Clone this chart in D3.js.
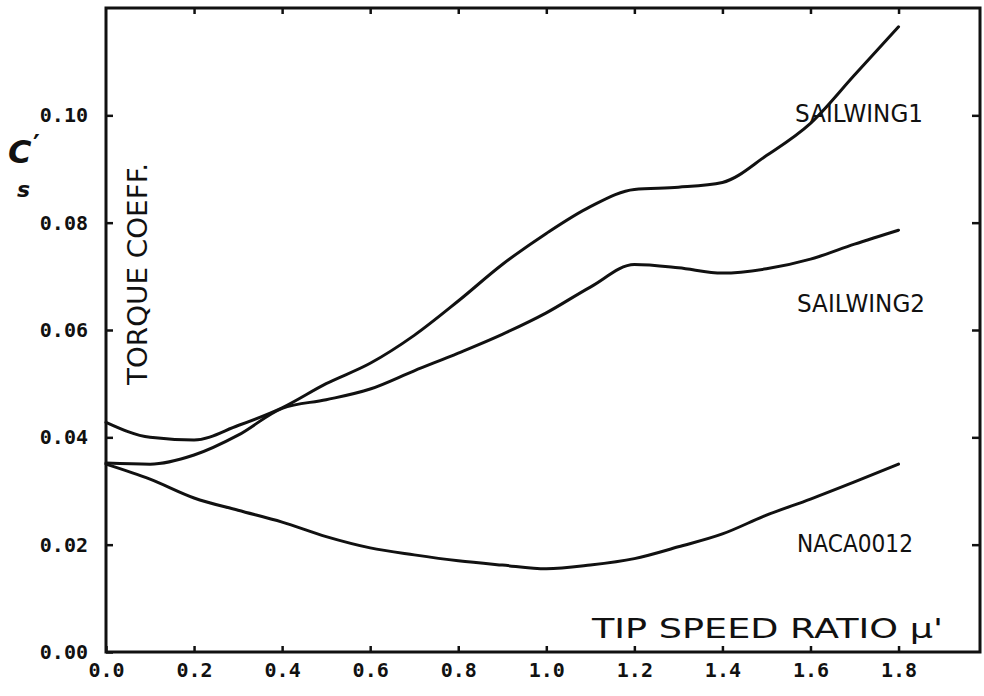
<!DOCTYPE html>
<html>
<head>
<meta charset="utf-8">
<script src="https://cdn.jsdelivr.net/npm/d3@7"></script>
<style>
  body { margin: 0; background: #fff; }
  svg { display: block; }
  .tick text { font-family: "DejaVu Sans Mono", monospace; font-weight: bold; fill: #111; }
  .tick line { stroke: #111; stroke-width: 2.5; }
  .lbl { font-family: "DejaVu Sans", sans-serif; fill: #111; }
</style>
</head>
<body>
<svg id="chart"></svg>
<script>
const width = 984;
const height = 696;

// tip speed ratio (x) shared by all three curves
const tipSpeed = [0, 0.1, 0.2, 0.3, 0.4, 0.5, 0.6, 0.7, 0.8, 0.9, 1.0, 1.1, 1.2, 1.3, 1.4, 1.5, 1.6, 1.7, 1.8];

const sailwing1 = [0.0428, 0.0400, 0.0395, 0.0422, 0.0455, 0.0500, 0.0538, 0.0590, 0.0654, 0.0722,
    0.0780, 0.0830, 0.0862, 0.0866, 0.0875, 0.0925, 0.0985, 0.1075, 0.1165];
const sailwing2 = [0.0352, 0.0350, 0.0367, 0.0404, 0.0454, 0.0470, 0.0490, 0.0524, 0.0557, 0.0592,
    0.0632, 0.0680, 0.0722, 0.0716, 0.0706, 0.0714, 0.0732, 0.0760, 0.0786];
const naca0012 = [0.0350, 0.0322, 0.0287, 0.0264, 0.0242, 0.0215, 0.0194, 0.0181, 0.0170, 0.0162,
    0.0155, 0.0162, 0.0174, 0.0196, 0.0220, 0.0255, 0.0285, 0.0317, 0.0350];

const seriesNames = ['SAILWING1', 'SAILWING2', 'NACA0012'];

const xTicks = [0.0, 0.2, 0.4, 0.6, 0.8, 1.0, 1.2, 1.4, 1.6, 1.8];
const yTicks = [0.00, 0.02, 0.04, 0.06, 0.08, 0.10];

const renderChart = () => {
    const svg = d3.select('#chart')
        .attr('width', width)
        .attr('height', height);

    const x = d3.scaleLinear().domain([0, 1.985]).range([106, 980]);
    const y = d3.scaleLinear().domain([0, 0.12]).range([652, 8]);

    // axes (ticks point inward, frame drawn separately)
    svg.append('g')
        .attr('transform', `translate(0,${y(0)})`)
        .call(d3.axisBottom(x).tickValues(xTicks).tickFormat(d3.format('.1f'))
            .tickSizeInner(-6).tickSizeOuter(0).tickPadding(11))
        .call(g => g.select('.domain').remove())
        .selectAll('text').style('font-size', '20px');

    svg.append('g')
        .attr('transform', `translate(${x(0)},0)`)
        .call(d3.axisLeft(y).tickValues(yTicks).tickFormat(d3.format('.2f'))
            .tickSizeInner(-7).tickSizeOuter(0).tickPadding(18))
        .call(g => g.select('.domain').remove())
        .selectAll('text').style('font-size', '20px');

    svg.append('g')
        .attr('transform', `translate(0,${y(0.12)})`)
        .call(d3.axisTop(x).tickValues(xTicks.slice(1)).tickFormat('')
            .tickSizeInner(-6).tickSizeOuter(0))
        .call(g => g.select('.domain').remove());

    svg.append('g')
        .attr('transform', `translate(${x(1.985)},0)`)
        .call(d3.axisRight(y).tickValues(yTicks.slice(1)).tickFormat('')
            .tickSizeInner(-8).tickSizeOuter(0))
        .call(g => g.select('.domain').remove());

    svg.append('rect')
        .attr('x', x(0))
        .attr('y', y(0.12))
        .attr('width', x(1.985) - x(0))
        .attr('height', y(0) - y(0.12))
        .attr('fill', 'none')
        .attr('stroke', '#111')
        .attr('stroke-width', 3);

    const line = d3.line()
        .x(d => x(d[0]))
        .y(d => y(d[1]))
        .curve(d3.curveMonotoneX);

    const series = [sailwing1, sailwing2, naca0012];
    svg.selectAll('.curve')
        .data(series)
        .enter().append('path')
        .attr('class', 'curve')
        .attr('d', d => line(tipSpeed.map((t, i) => [t, d[i]])))
        .attr('fill', 'none')
        .attr('stroke', '#111')
        .attr('stroke-width', 3)
        .attr('stroke-linecap', 'round');

    // curve labels
    const labelPos = [[795, 122, 128], [797, 312, 128], [797, 552, 116]];
    svg.selectAll('.name')
        .data(seriesNames)
        .enter().append('text')
        .attr('class', 'lbl name')
        .attr('x', (d, i) => labelPos[i][0])
        .attr('y', (d, i) => labelPos[i][1])
        .attr('textLength', (d, i) => labelPos[i][2])
        .attr('lengthAdjust', 'spacingAndGlyphs')
        .style('font-size', '25px')
        .text(d => d);

    // axis titles
    svg.append('text')
        .attr('class', 'lbl')
        .attr('transform', 'translate(147,385) rotate(-90)')
        .attr('textLength', 222)
        .attr('lengthAdjust', 'spacingAndGlyphs')
        .style('font-size', '26px')
        .text('TORQUE COEFF.');

    svg.append('text')
        .attr('class', 'lbl')
        .attr('x', 592)
        .attr('y', 638)
        .attr('textLength', 351)
        .attr('lengthAdjust', 'spacingAndGlyphs')
        .style('font-size', '26px')
        .text("TIP SPEED RATIO μ'");

    // C's symbol: letter, prime and subscript as separate pieces
    svg.append('text')
        .attr('class', 'lbl')
        .attr('x', 8)
        .attr('y', 163)
        .style('font-size', '32px')
        .style('font-style', 'italic')
        .style('font-weight', 'bold')
        .text('C');
    svg.append('text')
        .attr('class', 'lbl')
        .attr('x', 33)
        .attr('y', 154)
        .style('font-size', '26px')
        .style('font-weight', 'bold')
        .text('′');
    svg.append('text')
        .attr('class', 'lbl')
        .attr('x', 17)
        .attr('y', 197)
        .style('font-size', '22px')
        .style('font-style', 'italic')
        .style('font-weight', 'bold')
        .text('s');
};

document.addEventListener('DOMContentLoaded', () => {
    renderChart();
});
</script>
</body>
</html>
